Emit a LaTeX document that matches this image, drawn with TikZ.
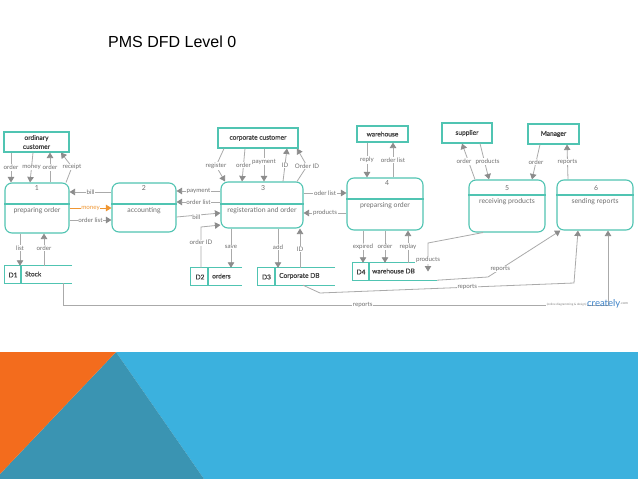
\documentclass[tikz,border=0pt]{standalone}
\usepackage{fontspec}
\setmainfont{Lato}
\newfontfamily\latosb{Lato}[FakeBold=1.3]
\newfontfamily\titlefont{Liberation Sans}
\usetikzlibrary{arrows.meta,calc}
\definecolor{tealb}{RGB}{80,196,178}
\definecolor{lgray}{RGB}{170,170,170}
\definecolor{agray}{RGB}{140,140,140}
\definecolor{tgray}{RGB}{110,110,110}
\definecolor{dgray}{RGB}{70,70,70}
\definecolor{morange}{RGB}{240,150,50}
\definecolor{bandorange}{RGB}{243,108,29}
\definecolor{banddark}{RGB}{58,148,178}
\definecolor{bandblue}{RGB}{59,177,222}
\definecolor{crblue}{RGB}{60,130,200}
\begin{document}
\begin{tikzpicture}[x=1pt,y=-1pt,
  ent/.style={draw=tealb,line width=1.1pt,inner sep=0pt,align=center,font=\latosb\fontsize{6.6}{9}\selectfont,text=dgray},
  proc/.style={draw=tealb,line width=1.1pt,rounded corners=7pt,inner sep=0pt},
  store/.style={inner sep=0pt},
  sline/.style={draw=tealb,line width=1.1pt},
  ptext/.style={font=\fontsize{6.9}{7}\selectfont,text=tgray,inner sep=0pt},
  stext/.style={font=\latosb\fontsize{6.6}{7}\selectfont,text=dgray,inner sep=0pt},
  lbl/.style={fill=white,text=tgray,font=\fontsize{6.2}{6.5}\selectfont,inner sep=0.7pt},
  flow/.style={draw=lgray,line width=0.8pt,-{Triangle[length=5.5pt,width=6.5pt,color=agray]}},
  oflow/.style={draw=morange,line width=0.8pt,-{Triangle[length=5.5pt,width=6.5pt,color=morange]}},
]
% background and bounding box
\fill[white] (0,0) rectangle (638,479);
% bottom band
\fill[bandblue] (116,352) -- (638,352) -- (638,479) -- (204,479) -- cycle;
\fill[banddark] (116,352) -- (204,479) -- (0,479) -- (0,474) -- cycle;
\fill[bandorange] (0,352) -- (116,352) -- (0,474) -- cycle;

% title
\node[anchor=west,font=\titlefont\fontsize{16}{18}\selectfont,inner sep=0pt] (title) at (108,42) {PMS DFD Level 0};

% external entities
\node[ent,minimum width=65pt,minimum height=20pt] (oc) at (36.5,142) {ordinary\\customer};
\node[ent,minimum width=80pt,minimum height=20pt] (cc) at (258,138) {corporate customer};
\node[ent,minimum width=51pt,minimum height=16pt] (wh) at (382.5,134) {warehouse};
\node[ent,minimum width=50pt,minimum height=20pt] (sup) at (467,133) {supplier};
\node[ent,minimum width=51pt,minimum height=20pt] (man) at (553.5,134) {Manager};

% processes
\node[proc,minimum width=64pt,minimum height=50pt] (p1) at (37,208) {};
\draw[sline] (p1.west |- 0,204) -- (p1.east |- 0,204);
\node[ptext] (p1n) at (37,188) {1};
\node[ptext] (p1t) at (37,211) {preparing order};

\node[proc,minimum width=64pt,minimum height=49pt] (p2) at (144,207.5) {};
\draw[sline] (p2.west |- 0,204) -- (p2.east |- 0,204);
\node[ptext] (p2n) at (144,188) {2};
\node[ptext] (p2t) at (144,211) {accounting};

\node[proc,minimum width=82pt,minimum height=46pt] (p3) at (262,205) {};
\draw[sline] (p3.west |- 0,204) -- (p3.east |- 0,204);
\node[ptext] (p3n) at (263,188) {3};
\node[ptext] (p3t) at (262,211) {registeration and order};

\node[proc,minimum width=76pt,minimum height=52pt] (p4) at (385,204) {};
\draw[sline] (p4.west |- 0,199) -- (p4.east |- 0,199);
\node[ptext] (p4n) at (387,183.5) {4};
\node[ptext] (p4t) at (385,206) {preparsing order};

\node[proc,minimum width=76pt,minimum height=52pt] (p5) at (507,206) {};
\draw[sline] (p5.west |- 0,195) -- (p5.east |- 0,195);
\node[ptext] (p5n) at (507,188) {5};
\node[ptext] (p5t) at (507,202) {receiving products};

\node[proc,minimum width=76pt,minimum height=50pt] (p6) at (595,205) {};
\draw[sline] (p6.west |- 0,195) -- (p6.east |- 0,195);
\node[ptext] (p6n) at (596,188) {6};
\node[ptext] (p6t) at (595,202) {sending reports};

% data stores
\node[store,minimum width=67pt,minimum height=17pt] (d1) at (38.5,274.5) {};
\draw[sline] (d1.north east) -- (d1.north west) -- (d1.south west) -- (d1.south east);
\draw[sline] (d1.north west -| 21,0) -- (d1.south west -| 21,0);
\node[stext] (d1id) at (13,275) {D1};
\node[stext,anchor=west] (d1nm) at (25,274) {Stock};

\node[store,minimum width=51pt,minimum height=17pt] (d2) at (216.5,276.5) {};
\draw[sline] (d2.north east) -- (d2.north west) -- (d2.south west) -- (d2.south east);
\draw[sline] (d2.north west -| 208,0) -- (d2.south west -| 208,0);
\node[stext] (d2id) at (200,277) {D2};
\node[stext,anchor=west] (d2nm) at (212,276) {orders};

\node[store,minimum width=77pt,minimum height=17pt] (d3) at (296.5,276.5) {};
\draw[sline] (d3.north east) -- (d3.north west) -- (d3.south west) -- (d3.south east);
\draw[sline] (d3.north west -| 275,0) -- (d3.south west -| 275,0);
\node[stext] (d3id) at (266.5,277) {D3};
\node[stext,anchor=west] (d3nm) at (279,276) {Corporate DB};

\node[store,minimum width=84pt,minimum height=17pt] (d4) at (395,271.5) {};
\draw[sline] (d4.north east) -- (d4.north west) -- (d4.south west) -- (d4.south east);
\draw[sline] (d4.north west -| 369,0) -- (d4.south west -| 369,0);
\node[stext] (d4id) at (361,272) {D4};
\node[stext,anchor=west] (d4nm) at (372,271) {warehouse DB};

% ordinary customer <-> 1
\draw[flow] (oc.south -| 11,0) -- node[lbl]{order} (p1.north -| 11,0);
\draw[flow] (oc.south -| 33,0) -- node[lbl]{money} (p1.north -| 30,0);
\draw[flow] (p1.north -| 50,0) -- node[lbl]{order} (oc.south -| 50,0);
\draw[flow] (p1.north -| 66,0) -- (72,167) node[lbl]{receipt} -- (oc.south -| 61,0);

% 1 <-> 2
\draw[flow] (p2.west |- 0,192) -- node[lbl]{bill} (p1.east |- 0,192);
\draw[oflow] (p1.east |- 0,208) -- node[lbl,text=morange]{money} (p2.west |- 0,208);
\draw[flow] (p1.east |- 0,220) -- node[lbl]{order list} (p2.west |- 0,220);

% 1 <-> D1
\draw[flow] (p1.south -| 20,0) -- node[lbl,pos=0.45]{list} (d1.north -| 20,0);
\draw[flow] (d1.north -| 44,0) -- node[lbl,pos=0.55]{order} (p1.south -| 44,0);

% 2 <-> 3
\draw[flow] (p3.west |- 0,191) -- node[lbl]{payment} (p2.east |- 0,191);
\draw[flow] (p3.west |- 0,202) -- node[lbl]{order list} (p2.east |- 0,202);
\draw[flow] (p2.east |- 0,217) -- node[lbl,pos=0.45,yshift=-2pt]{bill} (p3.west |- 0,213);

% D2 -> 3
\draw[flow] (d2.north -| 201,0) -- node[lbl,pos=0.62]{order ID} (201,227) -- (p3.west |- 0,225);

% corporate customer <-> 3
\draw[flow] (cc.south -| 224,0) -- (216,166) node[lbl]{register} -- (p3.north -| 225,0);
\draw[flow] (cc.south -| 245,0) -- node[lbl]{order} (p3.north -| 242,0);
\draw[flow] (cc.south -| 264,0) -- node[lbl,pos=0.4]{payment} (p3.north -| 264,0);
\draw[flow] (p3.north -| 283,0) -- node[lbl]{ID} (cc.south -| 287,0);
\draw[flow] (p3.north -| 297,0) -- (307,166) node[lbl]{Order ID} -- (cc.south -| 297,0);

% 3 <-> 4
\draw[flow] (p3.east |- 0,193) -- node[lbl]{oder list} (p4.west |- 0,193);
\draw[flow] (p4.west |- 0,213) -- node[lbl]{products} (p3.east |- 0,213);

% 3 <-> D2, D3
\draw[flow] (p3.south -| 231,0) -- node[lbl,pos=0.47]{save} (d2.north -| 231,0);
\draw[flow] (p3.south -| 278,0) -- node[lbl,pos=0.47]{add} (d3.north -| 278,0);
\draw[flow] (d3.north -| 300,0) -- node[lbl,pos=0.48]{ID} (p3.south -| 300,0);

% warehouse <-> 4
\draw[flow] (wh.south -| 367,0) -- node[lbl]{reply} (p4.north -| 367,0);
\draw[flow] (p4.north -| 393,0) -- node[lbl]{order list} (wh.south -| 393,0);

% 4 <-> D4
\draw[flow] (p4.south -| 363,0) -- node[lbl]{expired} (d4.north -| 363,0);
\draw[flow] (p4.south -| 385,0) -- node[lbl]{order} (d4.north -| 385,0);
\draw[flow] (d4.north -| 408,0) -- node[lbl]{replay} (p4.south -| 408,0);

% 5 -> D4
\draw[flow] (p5.south -| 483,0) -- (428,243) -- node[lbl,pos=0.6]{products} (d4.center -| 428,0);

% supplier <-> 5
\draw[flow] (p5.north -| 475,0) -- node[lbl,xshift=-4.5pt]{order} (sup.south -| 462,0);
\draw[flow] (sup.south -| 480,0) -- node[lbl,xshift=3pt]{products} (p5.north -| 489,0);

% manager <-> 5, 6
\draw[flow] (man.south -| 540,0) -- node[lbl]{order} (p5.north -| 532,0);
\draw[flow] (p6.north -| 568,0) -- node[lbl]{reports} (man.south -| 567,0);

% reports to 6
\draw[flow] (d4.south east) -- (488,277) -- node[lbl,pos=0.17]{reports} ($(p6.south west)+(4,0)$);
\draw[flow] (d3.south -| 303,0) -- (320,293) -- node[lbl,pos=0.58]{reports} (574,283) -- (p6.south -| 578,0);
\draw[flow] (d1.south -| 63,0) -- (63,305) -- node[lbl,pos=0.55]{reports} (608,305) -- (p6.south -| 608,0);

% watermark
\node[anchor=east,fill=white,inner sep=0.5pt,font=\fontsize{3}{3}\selectfont,text=gray] (wm1) at (587,305) {(online diagramming \& design)};
\node[anchor=west,inner sep=0pt,font=\fontsize{9.5}{10}\selectfont,text=crblue] (wm2) at (587,304) {creately};
\node[anchor=west,inner sep=0pt,font=\fontsize{3.5}{4}\selectfont,text=gray] (wm3) at (wm2.east) {.com};
\end{tikzpicture}
\end{document}
